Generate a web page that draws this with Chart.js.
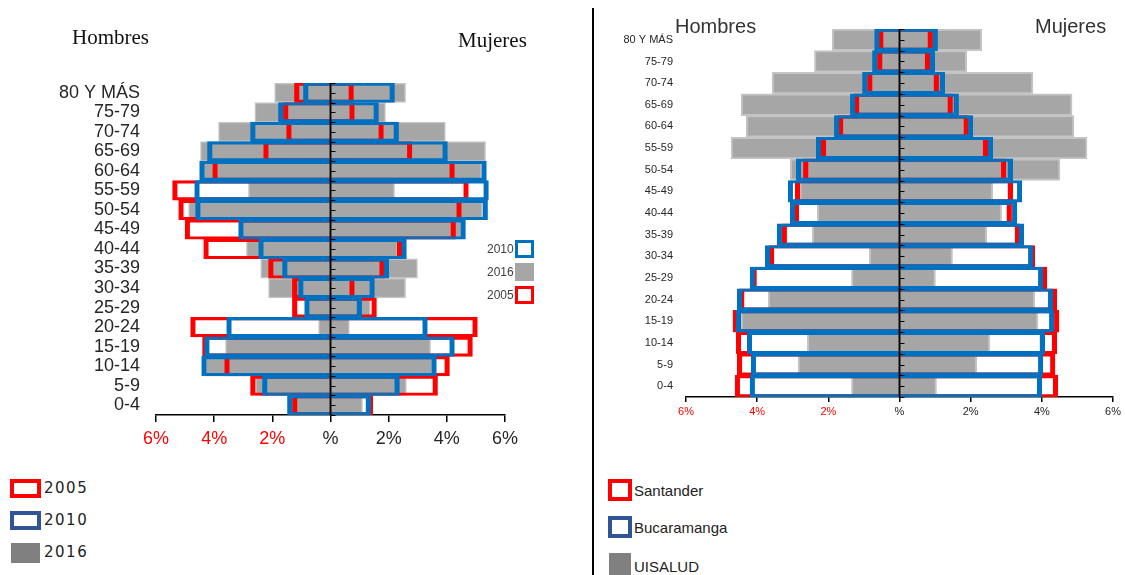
<!DOCTYPE html>
<html lang="es">
<head>
<meta charset="utf-8">
<title>Pirámides poblacionales</title>
<script src="https://cdn.jsdelivr.net/npm/chart.js@4.4.1/dist/chart.umd.min.js"></script>
<style>
  html, body { margin: 0; padding: 0; background: #fff; }
  body { width: 1125px; height: 575px; position: relative; overflow: hidden; font-family: 'Liberation Sans', Arial, sans-serif; color: #222; }
  canvas { position: absolute; }
  #chart-izq { left: 0; top: 0; }
  #chart-der { left: 600px; top: 0; }
  .txt { position: absolute; white-space: nowrap; line-height: 1; }
  .serif { font-family: 'Liberation Serif', 'Times New Roman', serif; font-size: 21px; color: #111; }
  .sans-tit { font-size: 20px; color: #333; }
  .caja { position: absolute; box-sizing: border-box; }
  .divisor { position: absolute; left: 592px; top: 8px; width: 2px; height: 567px; background: #000; }
  .ley-izq { font-family: 'DejaVu Sans', sans-serif; font-size: 15px; letter-spacing: 1.5px; color: #222; }
  .ley-der { font-size: 15px; color: #222; }
  .ley-mini { font-size: 12px; color: #404040; }
</style>
</head>
<body>

<canvas id="chart-izq" width="560" height="460"></canvas>
<canvas id="chart-der" width="525" height="430"></canvas>

<div class="divisor"></div>

<!-- títulos -->
<div class="txt serif" style="left:72px; top:27px">Hombres</div>
<div class="txt serif" style="left:458px; top:30px">Mujeres</div>
<div class="txt sans-tit" style="left:675px; top:16px">Hombres</div>
<div class="txt sans-tit" style="left:1035px; top:16px">Mujeres</div>

<!-- leyenda interna (izquierda) -->
<div class="txt ley-mini" style="left:487px; top:243px">2010</div>
<div class="caja" style="left:515px; top:240px; width:19px; height:18px; border:3px solid #0070c0"></div>
<div class="txt ley-mini" style="left:487px; top:266px">2016</div>
<div class="caja" style="left:515px; top:263px; width:19px; height:18px; background:#a6a6a6"></div>
<div class="txt ley-mini" style="left:487px; top:289px">2005</div>
<div class="caja" style="left:515px; top:286px; width:19px; height:18px; border:3px solid #ff0000"></div>

<!-- leyenda inferior izquierda -->
<div class="caja" style="left:10px; top:479px; width:31px; height:19px; border:4px solid #ff0000"></div>
<div class="txt ley-izq" style="left:44px; top:481px">2005</div>
<div class="caja" style="left:10px; top:511px; width:31px; height:19px; border:4px solid #2f5597"></div>
<div class="txt ley-izq" style="left:44px; top:513px">2010</div>
<div class="caja" style="left:11px; top:543px; width:29px; height:20px; background:#808080"></div>
<div class="txt ley-izq" style="left:44px; top:545px">2016</div>

<!-- leyenda inferior derecha -->
<div class="caja" style="left:608px; top:479px; width:24px; height:22px; border:4px solid #ff0000"></div>
<div class="txt ley-der" style="left:634px; top:483px">Santander</div>
<div class="caja" style="left:608px; top:516px; width:24px; height:22px; border:4px solid #2f5597"></div>
<div class="txt ley-der" style="left:634px; top:520px">Bucaramanga</div>
<div class="caja" style="left:609px; top:553px; width:22px; height:22px; background:#808080"></div>
<div class="txt ley-der" style="left:634px; top:559px">UISALUD</div>

<script>
// ------------------------------------------------------------
// Datos (% de población por grupo de edad, de arriba a abajo)
// ------------------------------------------------------------
const edades = ['80 Y MÁS', '75-79', '70-74', '65-69', '60-64', '55-59', '50-54', '45-49',
                '40-44', '35-39', '30-34', '25-29', '20-24', '15-19', '10-14', '5-9', '0-4'];
const ticksX = [-6, -4, -2, 0, 2, 4, 6];

// pirámide izquierda: 2005 / 2010 / 2016
const hombres2005 = [1.24, 1.62, 1.51, 2.30, 4.05, 5.43, 5.22, 5.00, 4.36, 2.13, 1.31, 1.31, 4.81, 4.40, 3.64, 2.75, 1.31];
const hombres2010 = [0.93, 1.79, 2.75, 4.23, 4.50, 4.67, 4.64, 3.16, 2.47, 1.65, 1.10, 0.89, 3.57, 4.33, 4.43, 2.34, 1.48];
const hombres2016 = [1.92, 2.60, 3.85, 4.47, 4.40, 2.82, 4.88, 3.05, 2.89, 2.40, 2.13, 0.78, 0.41, 3.61, 4.30, 2.58, 1.20];
const mujeres2005 = [0.79, 0.82, 1.82, 2.80, 4.26, 4.74, 4.50, 4.30, 2.45, 1.85, 0.82, 1.58, 5.05, 4.88, 4.09, 3.68, 1.45];
const mujeres2010 = [2.20, 1.65, 2.34, 4.02, 5.36, 5.43, 5.40, 4.64, 2.61, 2.00, 1.51, 1.07, 3.33, 4.26, 3.64, 2.37, 1.38];
const mujeres2016 = [2.58, 1.89, 3.95, 5.33, 5.19, 2.20, 5.22, 4.50, 2.30, 2.99, 2.58, 1.37, 0.65, 3.44, 3.50, 2.61, 1.10];

// pirámide derecha: Santander / Bucaramanga / UISALUD
const hombresSantander   = [0.59, 0.62, 0.90, 1.27, 1.72, 2.20, 2.70, 2.93, 2.96, 3.30, 3.66, 4.15, 4.50, 4.68, 4.59, 4.56, 4.62];
const hombresBucaramanga = [0.70, 0.76, 1.04, 1.38, 1.83, 2.34, 2.90, 3.13, 3.07, 3.44, 3.77, 4.20, 4.56, 4.59, 4.28, 4.17, 4.20];
const hombresUisalud     = [1.89, 2.39, 3.58, 4.45, 4.31, 4.73, 3.07, 2.80, 2.31, 2.45, 0.85, 1.35, 3.69, 4.45, 2.59, 2.85, 1.35];
const mujeresSantander   = [0.93, 0.85, 1.10, 1.49, 1.94, 2.48, 2.99, 3.18, 3.15, 3.38, 3.80, 4.14, 4.42, 4.48, 4.42, 4.37, 4.45];
const mujeresBucaramanga = [1.07, 0.99, 1.27, 1.66, 2.06, 2.62, 3.18, 3.44, 3.30, 3.49, 3.75, 4.03, 4.31, 4.34, 4.08, 4.03, 4.00];
const mujeresUisalud     = [2.31, 1.89, 3.75, 4.85, 4.90, 5.27, 4.51, 2.62, 2.87, 2.45, 1.49, 1.01, 3.80, 3.89, 2.54, 2.17, 1.04];

// ------------------------------------------------------------
const AZUL = '#0070c0';
const ROJO = '#ff0000';
const GRIS = '#a6a6a6';

Chart.defaults.font.family = "'Liberation Sans', Arial, sans-serif";

// eje central negro con marcas pequeñas a la derecha
const lineaCentral = {
  id: 'lineaCentral',
  afterDatasetsDraw(chart, args, opts) {
    const { ctx, chartArea, scales: { x, y } } = chart;
    const cx = x.getPixelForValue(0);
    ctx.save();
    ctx.strokeStyle = '#000';
    ctx.lineWidth = 2;
    ctx.beginPath();
    ctx.moveTo(cx, chartArea.top);
    ctx.lineTo(cx, chartArea.bottom);
    ctx.stroke();
    ctx.lineWidth = 1;
    ctx.beginPath();
    for (let i = 0; i <= edades.length * 2; i++) {
      const py = Math.round(y.getPixelForValue(i / 2 - 0.5)) + 0.5;
      ctx.moveTo(cx, py);
      ctx.lineTo(cx + opts.largo, py);
    }
    ctx.stroke();
    ctx.restore();
  }
};

function barras(datos, signo, estilo) {
  return Object.assign({
    data: datos.map(v => v * signo),
    grouped: false,
    categoryPercentage: 1,
    barPercentage: 1
  }, estilo);
}

function estiloContorno(color, bw) {
  return { backgroundColor: 'transparent', borderColor: color, borderWidth: bw };
}

function estiloGris(bw) {
  return { backgroundColor: GRIS, borderColor: '#c4c4c4', borderWidth: bw };
}

function opciones(cfg) {
  return {
    indexAxis: 'y',
    responsive: false,
    animation: false,
    events: [],
    layout: { padding: cfg.padding },
    plugins: {
      legend: { display: false },
      tooltip: { enabled: false },
      lineaCentral: { largo: cfg.marca }
    },
    scales: {
      x: {
        min: ticksX[0],
        max: ticksX[ticksX.length - 1],
        afterBuildTicks: s => { s.ticks = ticksX.map(v => ({ value: v })); },
        ticks: {
          autoSkip: false,
          maxRotation: 0,
          padding: cfg.padX,
          font: { size: cfg.fuenteX },
          color: c => c.tick.value < 0 ? ROJO : '#262626',
          callback: v => v === 0 ? '%' : Math.abs(v) + '%'
        },
        grid: { drawOnChartArea: false, drawTicks: true, tickLength: cfg.largoTick, color: '#000', lineWidth: 1.5 },
        border: { display: true, color: '#000', width: 1.5 },
        afterFit: s => { s.height = cfg.altoX; }
      },
      y: {
        ticks: { autoSkip: false, padding: cfg.padY, font: { size: cfg.fuenteY }, color: '#262626' },
        grid: { display: false },
        border: { display: false },
        afterFit: s => { s.width = cfg.anchoY; }
      }
    }
  };
}

// ---- pirámide izquierda ----
const bwIzq = { top: 2.5, bottom: 2.5, left: 4.5, right: 4.5 };
new Chart(document.getElementById('chart-izq'), {
  type: 'bar',
  data: {
    labels: edades,
    datasets: [
      barras(hombres2010, -1, estiloContorno(AZUL, bwIzq)),
      barras(mujeres2010, 1, estiloContorno(AZUL, bwIzq)),
      barras(hombres2005, -1, estiloContorno(ROJO, bwIzq)),
      barras(mujeres2005, 1, estiloContorno(ROJO, bwIzq)),
      barras(hombres2016, -1, estiloGris(1.5)),
      barras(mujeres2016, 1, estiloGris(1.5))
    ]
  },
  options: opciones({
    padding: { top: 83, right: 55, left: 0, bottom: 0 },
    anchoY: 156, altoX: 45, fuenteX: 18, fuenteY: 18,
    padX: 6, padY: 8, largoTick: 7, marca: 5
  }),
  plugins: [lineaCentral]
});

// ---- pirámide derecha ----
const bwDer = { top: 2.5, bottom: 2.5, left: 4.5, right: 4.5 };
new Chart(document.getElementById('chart-der'), {
  type: 'bar',
  data: {
    labels: edades,
    datasets: [
      barras(hombresBucaramanga, -1, estiloContorno(AZUL, bwDer)),
      barras(mujeresBucaramanga, 1, estiloContorno(AZUL, bwDer)),
      barras(hombresSantander, -1, estiloContorno(ROJO, bwDer)),
      barras(mujeresSantander, 1, estiloContorno(ROJO, bwDer)),
      barras(hombresUisalud, -1, estiloGris(2)),
      barras(mujeresUisalud, 1, estiloGris(2))
    ]
  },
  options: opciones({
    padding: { top: 29, right: 12, left: 0, bottom: 0 },
    anchoY: 86, altoX: 33, fuenteX: 11, fuenteY: 11,
    padX: 3, padY: 5, largoTick: 5, marca: 5
  }),
  plugins: [lineaCentral]
});
</script>
</body>
</html>
